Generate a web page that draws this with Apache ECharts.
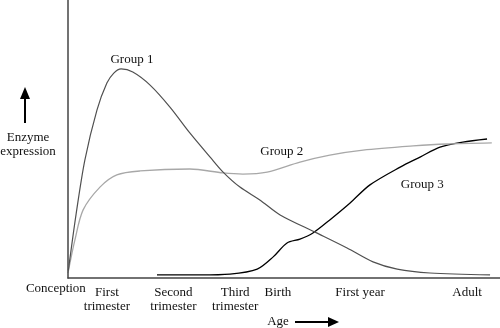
<!DOCTYPE html>
<html><head><meta charset="utf-8">
<script src="https://cdn.jsdelivr.net/npm/echarts@6/dist/echarts.min.js"></script>
<style>html,body{margin:0;padding:0;background:#fff}#c{width:500px;height:328px}</style>
</head><body><div id="c"></div>
<script>
// x: developmental age (0 = conception, 100 = right end); y: relative enzyme expression (0-100)
const group1 = [[0,1.8],[1.85,22.7],[3.9,42.4],[6.7,60.4],[9.0,70.1],[10.6,73.7],[12.3,75.2],[15.0,74.1],[19.0,69.4],[23.6,61.5],[28.2,52.2],[32.9,43.5],[35.9,38.1],[39.8,32.7],[44.4,28.1],[49.1,22.7],[57.2,16.5],[64.6,10.8],[70.6,5.8],[76.2,3.2],[83.8,1.8],[97.7,1.1]];
const group2 = [[0,1.8],[1.6,13.7],[3.5,24.5],[7.4,32.7],[11.3,37.1],[16.7,38.5],[28.2,39.2],[35.9,37.8],[40.5,37.4],[46.1,38.1],[53.7,41.7],[60.6,44.2],[68.3,46.0],[79.9,47.5],[87.7,48.2],[98.1,48.6]];
const group3 = [[20.6,1.1],[30.6,1.1],[37.5,1.4],[43.8,3.2],[47.5,7.6],[50.7,12.6],[53.7,14.0],[56.7,16.2],[60.6,20.9],[65.3,27.0],[69.9,33.5],[76.9,39.9],[81.5,43.5],[86.1,47.1],[91.4,48.9],[97.0,50.0]];
const seriesNames = ['Group 1','Group 2','Group 3'];
const tickLabels = ['Conception','First\ntrimester','Second\ntrimester','Third\ntrimester','Birth','First year','Adult'];
const tickValues = [-2.8, 9.0, 24.4, 38.7, 48.6, 67.6, 92.4];
const xTitle = 'Age';
const yTitle = 'Enzyme\nexpression';

const FONT = 'Liberation Serif';
const chart = echarts.init(document.getElementById('c'), null, {renderer:'canvas'});
const lineStyles = [
  {color:'#505050', width:1.2},
  {color:'#a8a8a8', width:1.3},
  {color:'#000000', width:1.3}
];
const labelAnchors = [[14.8,78.5],[49.5,45.5],[82.0,33.5]];
chart.setOption({
  animation:false,
  grid:{left:68,right:0,top:0,bottom:50},
  xAxis:{type:'value',min:0,max:100,axisLine:{show:true,lineStyle:{color:'#444',width:1.5}},axisTick:{show:false},axisLabel:{show:false},splitLine:{show:false}},
  yAxis:{type:'value',min:0,max:100,axisLine:{show:true,lineStyle:{color:'#444',width:1.5}},axisTick:{show:false},axisLabel:{show:false},splitLine:{show:false}},
  series:[group1,group2,group3].map((d,i)=>({
    name:seriesNames[i],type:'line',data:d,smooth:0.3,showSymbol:false,
    lineStyle:lineStyles[i],z:3-i
  }))
});

const txt = (x,y,s,align,vAlign)=>({type:'text',x:x,y:y,style:{text:s,font:'13px "'+FONT+'"',fill:'#111',align:align||'center',verticalAlign:vAlign||'top',lineHeight:14}});
const g = [];
tickValues.forEach((v,i)=>{
  const p = chart.convertToPixel({gridIndex:0},[v,0]);
  g.push(txt(p[0], i===0 ? 282 : 286, tickLabels[i]));
});
labelAnchors.forEach((a,i)=>{
  const p = chart.convertToPixel({gridIndex:0},a);
  g.push(txt(p[0],p[1],seriesNames[i],'center','middle'));
});
// axis titles
g.push(txt(278,322,xTitle,'center','middle'));
g.push({type:'line',shape:{x1:295,y1:322,x2:330,y2:322},style:{stroke:'#000',lineWidth:2}});
g.push({type:'polygon',shape:{points:[[328,317],[339,322],[328,327]]},style:{fill:'#000'}});
g.push(txt(28,145,yTitle,'center','middle'));
g.push({type:'line',shape:{x1:25,y1:123,x2:25,y2:97},style:{stroke:'#000',lineWidth:2}});
g.push({type:'polygon',shape:{points:[[20,99],[25,87],[30,99]]},style:{fill:'#000'}});
chart.setOption({graphic:g});
</script></body></html>
